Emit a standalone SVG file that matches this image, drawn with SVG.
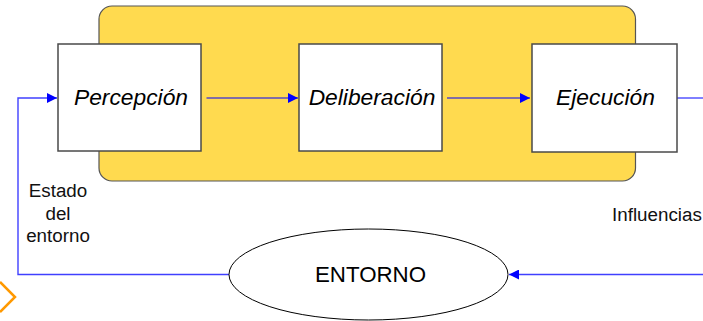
<svg xmlns="http://www.w3.org/2000/svg" width="703" height="321" viewBox="0 0 703 321">
  <defs>
    <marker id="ah" viewBox="0 0 10 10" refX="10" refY="5" markerWidth="10" markerHeight="10" markerUnits="userSpaceOnUse" orient="auto">
      <path d="M0,0 L10,5 L0,10 Z" fill="#0000ff"/>
    </marker>
    <style>
      .box { fill: #ffffff; stroke: #4a4a4a; stroke-width: 1.5; }
      .lbl { font-family: "Liberation Sans", Arial, sans-serif; font-size: 22.8px; font-style: italic; fill: #000; text-anchor: middle; }
      .side { font-family: "Liberation Sans", Arial, sans-serif; font-size: 18.8px; fill: #111; }
      .arrow { fill: none; stroke: #0000ff; stroke-width: 1; }
      .loop { fill: none; stroke: #4040ff; stroke-width: 1.4; }
    </style>
  </defs>
  <rect width="703" height="321" fill="#ffffff"/>

  <g id="agente">
    <rect x="99" y="6" width="536.5" height="175" rx="13" ry="13" fill="#ffda4f" stroke="#555555" stroke-width="1.2"/>
  </g>

  <g id="connectors">
    <line class="arrow" x1="206.5" y1="98" x2="298" y2="98" marker-end="url(#ah)"/>
    <line class="arrow" x1="447" y1="98" x2="530" y2="98" marker-end="url(#ah)"/>
    <line class="arrow" x1="677" y1="98" x2="703" y2="98"/>
    <polyline class="loop" points="703,274.5 509,274.5" marker-end="url(#ah)"/>
    <polyline class="loop" points="229,274.5 18,274.5 18,98 57,98" marker-end="url(#ah)"/>
  </g>

  <g id="percepcion">
    <rect class="box" x="58" y="44" width="143" height="107"/>
    <text class="lbl" x="131" y="105">Percepción</text>
  </g>

  <g id="deliberacion">
    <rect class="box" x="299" y="44" width="143" height="107"/>
    <text class="lbl" x="372" y="105">Deliberación</text>
  </g>

  <g id="ejecucion">
    <rect class="box" x="532" y="44" width="145" height="108"/>
    <text class="lbl" x="605.5" y="105">Ejecución</text>
  </g>

  <g id="entorno">
    <ellipse cx="368.5" cy="274.5" rx="139.5" ry="45.5" fill="#ffffff" stroke="#000000" stroke-width="1"/>
    <text x="370.5" y="282" font-family="Liberation Sans, Arial, sans-serif" font-size="22.3" fill="#000" text-anchor="middle">ENTORNO</text>
  </g>

  <g id="label-estado">
    <text class="side" text-anchor="middle" x="58" y="197">Estado</text>
    <text class="side" text-anchor="middle" x="58" y="220">del</text>
    <text class="side" text-anchor="middle" x="58" y="242">entorno</text>
  </g>

  <g id="label-influencias">
    <text class="side" x="612" y="221">Influencias</text>
  </g>

  <g id="chevron">
    <polyline points="0,282 15,297 0,312" fill="none" stroke="#ff9900" stroke-width="2.5"/>
  </g>
</svg>
